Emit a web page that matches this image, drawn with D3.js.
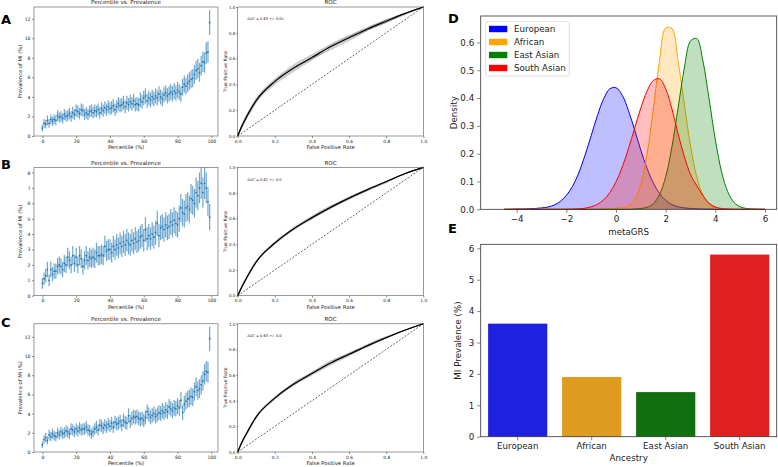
<!DOCTYPE html>
<html><head><meta charset="utf-8">
<script src="https://cdn.jsdelivr.net/npm/d3@7"></script>
<style>body{margin:0;background:#fff}svg{display:block}text{font-family:"DejaVu Sans",sans-serif}</style>
</head><body><svg id="c" width="778" height="467"></svg>
<script>
// ---------------- DATA ----------------
const percentiles = d3.range(0, 100);
const prevA = [0.8,1.3,1.2,1.6,1.3,1.7,1.5,1.7,1.6,2.1,1.9,2.0,1.8,2.2,2.0,2.1,2.3,2.0,2.4,2.2,
  2.6,2.5,2.3,2.7,2.6,2.2,2.4,2.2,2.5,2.6,2.4,2.6,2.5,2.7,2.4,2.8,2.6,2.9,2.7,3.0,
  2.8,2.9,3.1,2.7,3.0,3.3,3.1,3.2,3.4,3.0,3.4,3.2,3.5,3.3,3.6,3.2,3.3,3.2,3.7,3.5,
  3.9,4.1,3.6,3.9,3.7,4.0,3.8,4.1,3.9,4.3,4.0,3.8,4.2,4.4,4.1,4.3,4.5,4.3,4.6,4.4,
  4.7,4.5,4.3,5.0,5.3,5.1,5.4,5.6,5.8,5.9,6.3,6.7,6.9,6.5,7.2,7.6,7.5,8.5,8.6,11.6];
const prevB = [0.8,1.1,1.3,1.7,1.0,1.7,1.4,1.6,1.6,1.9,2.0,1.9,1.7,2.1,2.0,2.5,2.3,2.0,2.6,2.1,
  2.5,2.0,2.6,2.4,1.9,2.3,2.6,2.3,2.5,2.4,2.5,2.4,2.8,2.6,2.6,2.7,2.6,3.2,2.9,3.0,
  3.0,2.8,3.2,3.0,3.3,3.1,3.4,3.2,3.5,3.3,3.6,3.4,3.3,3.6,3.4,3.7,3.5,3.6,3.8,3.9,
  3.6,4.3,3.7,3.9,3.7,4.0,3.8,4.1,4.7,3.9,4.4,4.5,4.3,4.6,4.4,4.5,4.8,4.6,4.9,4.7,
  4.6,5.0,5.7,5.4,5.3,5.7,5.8,5.6,6.3,6.2,6.0,6.7,6.5,7.0,7.3,6.7,7.3,7.0,6.1,5.1];
const prevC = [0.75,1.3,1.5,1.2,1.8,1.6,1.9,1.7,1.6,2.0,1.8,2.1,1.9,2.0,2.2,2.1,1.9,2.4,2.3,2.1,
  2.4,2.2,2.5,2.3,2.4,2.4,2.6,2.3,2.2,1.9,2.1,2.4,2.6,2.3,2.8,2.7,2.5,2.8,2.6,2.9,
  2.7,3.0,2.6,3.1,2.9,3.0,3.2,2.8,3.3,3.1,3.0,3.8,3.2,3.5,3.7,3.6,3.7,3.5,3.4,3.5,
  3.3,3.6,4.2,3.9,3.6,3.8,4.0,3.7,3.9,4.1,4.0,4.3,4.1,4.4,4.2,4.7,4.5,4.3,4.6,4.5,
  4.8,4.6,5.4,4.1,5.0,5.3,5.5,5.6,5.8,5.7,6.3,6.8,6.4,6.6,7.0,7.4,8.1,8.4,8.3,11.8];
const binSize = 2500;   // individuals per percentile bin (for 95% CI)
const pctTicks = [0, 20, 40, 60, 80, 100];

const rocFpr = [0, 0.02, 0.05, 0.1, 0.2, 0.3, 0.4, 0.5, 0.6, 0.7, 0.8, 0.9, 1];
const rocA = [
  [0,0.07,0.16,0.28,0.43,0.53,0.61,0.69,0.76,0.83,0.89,0.95,1],
  [0,0.08,0.17,0.29,0.44,0.55,0.63,0.71,0.78,0.84,0.90,0.95,1],
  [0,0.06,0.14,0.26,0.40,0.50,0.59,0.68,0.75,0.82,0.88,0.94,1],
  [0,0.07,0.15,0.27,0.42,0.52,0.60,0.70,0.77,0.83,0.89,0.95,1],
  [0,0.06,0.15,0.27,0.41,0.51,0.60,0.67,0.74,0.82,0.88,0.95,1],
  [0,0.07,0.16,0.28,0.43,0.54,0.62,0.70,0.77,0.84,0.90,0.95,1]];
const rocB = [
  [0,0.06,0.14,0.26,0.41,0.52,0.60,0.68,0.76,0.82,0.89,0.95,1],
  [0,0.06,0.14,0.26,0.41,0.52,0.61,0.69,0.76,0.83,0.89,0.95,1],
  [0,0.07,0.15,0.27,0.42,0.52,0.61,0.69,0.77,0.83,0.89,0.95,1],
  [0,0.06,0.14,0.26,0.40,0.51,0.60,0.68,0.75,0.82,0.88,0.95,1],
  [0,0.06,0.15,0.27,0.41,0.53,0.62,0.70,0.76,0.83,0.89,0.95,1]];
const rocC = [
  [0,0.07,0.15,0.27,0.42,0.53,0.61,0.69,0.76,0.83,0.89,0.95,1],
  [0,0.07,0.15,0.28,0.43,0.53,0.62,0.70,0.77,0.83,0.89,0.95,1],
  [0,0.06,0.14,0.27,0.42,0.52,0.61,0.69,0.76,0.82,0.89,0.95,1],
  [0,0.07,0.16,0.28,0.42,0.54,0.62,0.71,0.77,0.84,0.90,0.95,1],
  [0,0.07,0.15,0.27,0.41,0.52,0.60,0.68,0.75,0.83,0.89,0.95,1]];
const aucLabels = ["AUC = 0.63 +/- 0.01", "AUC = 0.62 +/- 0.0", "AUC = 0.63 +/- 0.0"];
const rocTicks = [0, 0.2, 0.4, 0.6, 0.8, 1.0];

const ancestries = ["European", "African", "East Asian", "South Asian"];
const grsGrid = [-4.5,-4.25,-4,-3.75,-3.5,-3.25,-3,-2.75,-2.5,-2.25,-2,-1.75,-1.5,-1.25,-1,-0.75,-0.5,-0.25,
  0,0.25,0.5,0.75,1,1.25,1.5,1.75,2,2.25,2.5,2.75,3,3.25,3.5,3.75,4,4.25,4.5,4.75,5,5.25,5.5,5.75,6];
const densEuropean = [0,0,0.001,0.001,0.002,0.003,0.005,0.008,0.015,0.028,0.050,0.083,0.131,0.194,0.265,0.337,0.397,0.433,
  0.437,0.410,0.355,0.285,0.212,0.147,0.095,0.057,0.032,0.017,0.009,0.005,0.003,0.002,0.001,0.001,0,0,0,0,0,0,0,0,0];
const densAfrican = [0,0,0,0,0,0,0,0,0,0,0,0,0,0,0,0,0.001,0.002,
  0.004,0.006,0.012,0.034,0.090,0.198,0.361,0.535,0.652,0.650,0.532,0.378,0.228,0.117,0.051,0.019,0.006,0.002,0.001,0,0,0,0,0,0];
const densEastAsian = [0,0,0,0,0,0,0,0,0,0,0,0,0,0,0,0,0,0,
  0,0,0,0.001,0.003,0.007,0.020,0.053,0.117,0.224,0.365,0.508,0.605,0.614,0.533,0.395,0.250,0.135,0.063,0.025,0.009,0.003,0.001,0,0];
const densSouthAsian = [0,0,0,0,0,0,0,0,0,0,0,0.001,0.002,0.004,0.009,0.018,0.034,0.060,
  0.099,0.152,0.218,0.292,0.365,0.425,0.463,0.469,0.433,0.361,0.271,0.190,0.125,0.085,0.050,0.022,0.008,0.003,0.001,0,0,0,0,0,0];
const grsTicks = [-4, -2, 0, 2, 4, 6];
const densTicks = [0, 0.1, 0.2, 0.3, 0.4, 0.5, 0.6];

const miPrevalence = [3.6, 1.9, 1.42, 5.8];
const prevTicks = [0, 1, 2, 3, 4, 5, 6];

// ---------------- DRAW ----------------
const svg = d3.select("#c");
const FONT = "DejaVu Sans";

function styleAxis(sel, fs, tickCol) {
  sel.attr("font-family", FONT);
  sel.select(".domain").remove();
  sel.selectAll(".tick text").attr("font-size", fs).attr("fill", "#222");
  sel.selectAll(".tick line").attr("stroke", tickCol).attr("stroke-width", 0.6);
}
function spine(rect, col, w) {
  svg.append("rect").attr("x", rect.l).attr("y", rect.t)
    .attr("width", rect.r - rect.l).attr("height", rect.b - rect.t)
    .attr("fill", "none").attr("stroke", col).attr("stroke-width", w);
}
function letter(t, x, y) {
  svg.append("text").attr("x", x).attr("y", y).text(t)
    .attr("font-family", "Liberation Sans").attr("font-weight", "bold").attr("font-size", 13).attr("fill", "#000");
}
function smallText(t, x, y, fs, anchor, rot) {
  const e = svg.append("text").text(t).attr("font-size", fs).attr("fill", "#222")
    .attr("text-anchor", anchor || "middle");
  if (rot) e.attr("transform", `translate(${x},${y}) rotate(-90)`);
  else e.attr("x", x).attr("y", y);
  return e;
}

function drawScatter(rect, yMax, yTicks, vals) {
  const x = d3.scaleLinear().domain([-4.95, 103.95]).range([rect.l, rect.r]);
  const y = d3.scaleLinear().domain([0, yMax]).range([rect.b, rect.t]);
  const g = svg.append("g");
  const ci = v => { const p = v / 100; return 196 * Math.sqrt(p * (1 - p) / binSize); };
  g.selectAll("line.err").data(vals).join("line").attr("class", "err")
    .attr("x1", (d, i) => x(percentiles[i])).attr("x2", (d, i) => x(percentiles[i]))
    .attr("y1", d => y(d - ci(d))).attr("y2", d => y(d + ci(d)))
    .attr("stroke", "#1f77b4").attr("stroke-opacity", 0.65).attr("stroke-width", 1.2);
  g.selectAll("circle").data(vals).join("circle")
    .attr("cx", (d, i) => x(percentiles[i])).attr("cy", d => y(d)).attr("r", 0.9)
    .attr("fill", "#1f77b4");
  const ax = svg.append("g").attr("transform", `translate(0,${rect.b})`)
    .call(d3.axisBottom(x).tickValues(pctTicks).tickSize(2).tickPadding(1.5));
  styleAxis(ax, 4.6, "#444");
  const ay = svg.append("g").attr("transform", `translate(${rect.l},0)`)
    .call(d3.axisLeft(y).tickValues(yTicks).tickSize(2).tickPadding(1.5));
  styleAxis(ay, 4.6, "#444");
  spine(rect, "#555", 0.6);
  smallText("Percentile vs. Prevalence", (rect.l + rect.r) / 2, rect.t - 2.6, 5.6);
  smallText("Percentile (%)", (rect.l + rect.r) / 2, rect.b + 13, 5.2);
  smallText("Prevalence of MI (%)", 22, (rect.t + rect.b) / 2, 5.2, "middle", true);
}

function drawRoc(rect, folds, auc) {
  const x = d3.scaleLinear().domain([0, 1]).range([rect.l, rect.r]);
  const y = d3.scaleLinear().domain([0, 1]).range([rect.b, rect.t]);
  const line = d3.line().x((d, i) => x(rocFpr[i])).y(d => y(d)).curve(d3.curveMonotoneX);
  const g = svg.append("g");
  g.append("line").attr("x1", x(0)).attr("y1", y(0)).attr("x2", x(1)).attr("y2", y(1))
    .attr("stroke", "#000").attr("stroke-width", 0.6).attr("stroke-dasharray", "2,1.5");
  g.selectAll("path.fold").data(folds).join("path").attr("class", "fold")
    .attr("d", line).attr("fill", "none").attr("stroke", "#444").attr("stroke-opacity", 0.7).attr("stroke-width", 0.5);
  const mean = rocFpr.map((f, i) => d3.mean(folds, r => r[i]));
  g.append("path").datum(mean).attr("d", line).attr("fill", "none").attr("stroke", "#000").attr("stroke-width", 1.2);
  const ax = svg.append("g").attr("transform", `translate(0,${rect.b})`)
    .call(d3.axisBottom(x).tickValues(rocTicks).tickFormat(d3.format(".1f")).tickSize(2).tickPadding(1.5));
  styleAxis(ax, 4.4, "#444");
  const ay = svg.append("g").attr("transform", `translate(${rect.l},0)`)
    .call(d3.axisLeft(y).tickValues(rocTicks).tickFormat(d3.format(".1f")).tickSize(1.5).tickPadding(0.8));
  styleAxis(ay, 4.0, "#444");
  spine(rect, "#555", 0.6);
  smallText("ROC", (rect.l + rect.r) / 2, rect.t - 2.6, 5.6);
  smallText("False Positive Rate", (rect.l + rect.r) / 2, rect.b + 13, 5.2);
  smallText("True Positive Rate", rect.l - 10.8, (rect.t + rect.b) / 2, 4.6, "middle", true);
  smallText(auc, rect.l + 9.5, rect.t + 13.4, 3.6, "start");
}

const rows = [
  {t: 7, b: 136, prev: prevA, yMax: 13.2, yTicks: [0,2,4,6,8,10,12], roc: rocA, letter: "A", ly: 24},
  {t: 167.3, b: 295.7, prev: prevB, yMax: 8.34, yTicks: [0,1,2,3,4,5,6,7,8], roc: rocB, letter: "B", ly: 169},
  {t: 323.8, b: 452, prev: prevC, yMax: 13.36, yTicks: [0,2,4,6,8,10,12], roc: rocC, letter: "C", ly: 327}
];
rows.forEach((r, k) => {
  drawScatter({l: 34, r: 218, t: r.t, b: r.b}, r.yMax, r.yTicks, r.prev);
  drawRoc({l: 237.7, r: 423.3, t: r.t, b: r.b}, r.roc, aucLabels[k]);
  letter(r.letter, 1, r.ly);
});

// ---- Panel D: density ----
(function () {
  const rect = {l: 480.7, r: 776.7, t: 16, b: 209.3};
  const x = d3.scaleLinear().domain([-5.45, 6.47]).range([rect.l, rect.r]);
  const y = d3.scaleLinear().domain([0, 0.695]).range([rect.b, rect.t]);
  const series = [densEuropean, densAfrican, densEastAsian, densSouthAsian];
  const cols = ["#0000ff", "#ffa500", "#008000", "#ff0000"];
  const area = d3.area().x((d, i) => x(grsGrid[i])).y0(y(0)).y1(d => y(Math.max(0, d))).curve(d3.curveCatmullRom);
  const line = d3.line().x((d, i) => x(grsGrid[i])).y(d => y(Math.max(0, d))).curve(d3.curveCatmullRom);
  const g = svg.append("g");
  series.forEach((s, k) => {
    g.append("path").datum(s).attr("d", area).attr("fill", cols[k]).attr("fill-opacity", 0.25);
    g.append("path").datum(s).attr("d", line).attr("fill", "none").attr("stroke", cols[k]).attr("stroke-width", 1);
  });
  const ax = svg.append("g").attr("transform", `translate(0,${rect.b})`)
    .call(d3.axisBottom(x).tickValues(grsTicks).tickSize(3.5).tickPadding(3));
  styleAxis(ax, 8.7, "#333");
  const ay = svg.append("g").attr("transform", `translate(${rect.l},0)`)
    .call(d3.axisLeft(y).tickValues(densTicks).tickFormat(d3.format(".1f")).tickSize(3.5).tickPadding(3));
  styleAxis(ay, 8.7, "#333");
  spine(rect, "#333", 0.8);
  smallText("metaGRS", (rect.l + rect.r) / 2, 235, 8.7);
  smallText("Density", 456.5, (rect.t + rect.b) / 2, 8.7, "middle", true);
  // legend
  const lg = svg.append("g");
  lg.append("rect").attr("x", 485.7).attr("y", 21.7).attr("width", 83.6).attr("height", 54.3)
    .attr("rx", 2).attr("fill", "#fff").attr("fill-opacity", 0.8).attr("stroke", "#d5d5d5").attr("stroke-width", 0.8);
  ancestries.forEach((a, k) => {
    const cy = 29 + 13 * k;
    lg.append("rect").attr("x", 489).attr("y", cy - 3.2).attr("width", 18.3).attr("height", 6.4).attr("fill", cols[k]);
    lg.append("text").attr("x", 514).attr("y", cy + 3.1).text(a).attr("font-size", 8.7).attr("fill", "#222");
  });
  letter("D", 448, 23);
})();

// ---- Panel E: bars ----
(function () {
  const rect = {l: 480.7, r: 776.7, t: 244.3, b: 436.7};
  const x = d3.scaleBand().domain(ancestries).range([rect.l, rect.r]).paddingInner(0.2).paddingOuter(0.1);
  const y = d3.scaleLinear().domain([0, 6.127]).range([rect.b, rect.t]);
  const cols = ["#2020df", "#df9c20", "#107010", "#df2020"];
  svg.append("g").selectAll("rect").data(miPrevalence).join("rect")
    .attr("x", (d, i) => x(ancestries[i])).attr("width", x.bandwidth())
    .attr("y", d => y(d)).attr("height", d => y(0) - y(d)).attr("fill", (d, i) => cols[i]);
  const ax = svg.append("g").attr("transform", `translate(0,${rect.b})`)
    .call(d3.axisBottom(x).tickSize(3.5).tickPadding(3));
  styleAxis(ax, 8.7, "#333");
  const ay = svg.append("g").attr("transform", `translate(${rect.l},0)`)
    .call(d3.axisLeft(y).tickValues(prevTicks).tickFormat(d3.format("d")).tickSize(3.5).tickPadding(3));
  styleAxis(ay, 8.7, "#333");
  spine(rect, "#333", 0.8);
  smallText("Ancestry", (rect.l + rect.r) / 2, 461, 8.7);
  smallText("MI Prevalence (%)", 461, (rect.t + rect.b) / 2, 8.7, "middle", true);
  letter("E", 448, 233);
})();
</script></body></html>
